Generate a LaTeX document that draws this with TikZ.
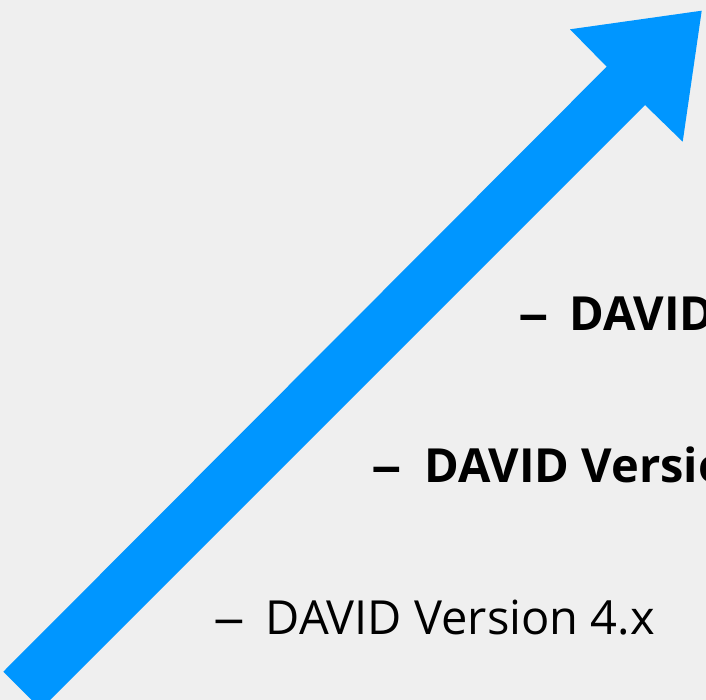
\documentclass[tikz,border=0pt]{standalone}
\usepackage{fontspec}
\usepackage{graphicx}
\setmainfont{Open Sans}
\definecolor{bgc}{RGB}{239,239,239}
\definecolor{arrowblue}{RGB}{0,150,255}
\begin{document}
\begin{tikzpicture}[x=1pt,y=-1pt,
  lbl/.style={anchor=base west,inner sep=0pt,font=\fontsize{47}{52}\selectfont},
  blbl/.style={lbl,font=\fontsize{47}{52}\selectfont\bfseries}]
\useasboundingbox (0,0) rectangle (706,700);
\fill[bgc] (0,0) rectangle (706,700);
\clip (0,0) rectangle (706,700);
\fill[arrowblue] (3.3,671.7) -- (606.7,66.7) -- (570,29.3) -- (701.7,10.7)
  -- (682.7,141.7) -- (645,105) -- (40.8,709.2) -- cycle;
\node[lbl]  (d1) at (213,634) {\scalebox{1.35}[1]{–}};
\node[lbl]  (t1) at (265.5,634) {DAVID Version 4.x};
\node[blbl] (d2) at (371,482.7) {\scalebox{1.3}[1]{–}};
\node[blbl] (t2) at (424,482.7) {DAVID Version};
\node[blbl] (d3) at (518,330.7) {\scalebox{1.3}[1]{–}};
\node[blbl] (t3) at (569,330.7) {DAVID Version};
\end{tikzpicture}
\end{document}
